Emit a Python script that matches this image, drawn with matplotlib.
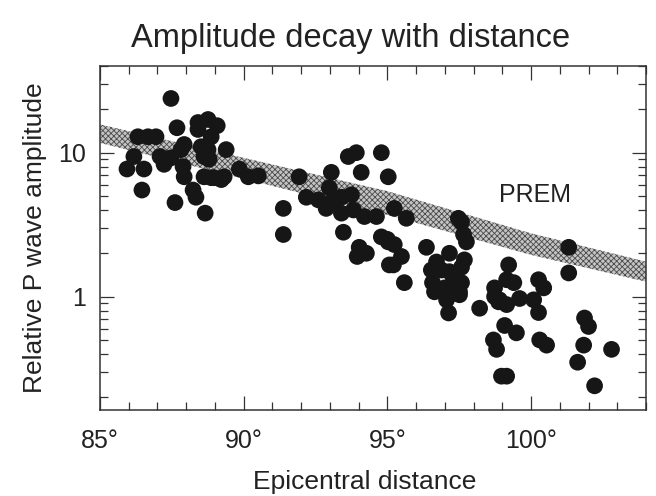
import numpy as np
import matplotlib
matplotlib.use('Agg')
import matplotlib.pyplot as plt
from matplotlib.ticker import FixedLocator, NullFormatter, FuncFormatter, LogLocator

plt.rcParams['font.family'] = ['Liberation Sans', 'DejaVu Sans']
plt.rcParams['hatch.linewidth'] = 0.6
plt.rcParams['hatch.color'] = '#4a4a4a'

# observed P wave amplitudes (epicentral distance in degrees, relative amplitude)
distance = [
    85.94, 86.18, 86.32, 86.53, 86.46, 86.67, 86.95, 87.09, 87.23, 87.47,
    87.47, 87.68, 87.61, 87.93, 87.82, 87.93, 87.89, 88.24, 88.34, 88.66,
    88.41, 88.76, 89.08, 88.41, 88.87, 88.52, 88.76, 89.39, 88.87, 89.22,
    88.62, 88.97, 89.32, 89.85, 90.16, 90.51, 88.62, 88.80,
    91.38, 91.38, 91.93, 92.18, 92.60, 92.87, 92.98, 93.05, 93.40, 93.40,
    93.75, 93.47, 93.64, 93.92, 94.09, 94.79, 95.03, 93.82, 94.20, 94.62,
    94.02, 94.27, 93.95, 94.79, 95.03, 95.07, 93.10,
    95.24, 95.66, 95.00, 95.24, 95.49, 95.21, 95.59, 96.36, 97.47, 97.58,
    97.65, 97.75, 97.16, 96.71, 96.53, 96.88, 97.68, 97.58, 96.57, 96.99,
    97.16, 97.30, 97.58, 97.51, 97.06, 97.13, 98.21, 98.73, 98.90, 99.22,
    99.15, 96.64, 97.51, 98.73, 98.87, 99.15, 99.08, 98.69, 98.80, 98.97,
    99.15,
    101.31, 101.31, 99.40, 100.26, 100.44, 99.60, 100.09, 100.26, 99.49, 100.30,
    100.54, 101.86, 102.00, 101.83, 101.62, 102.80, 102.21,
]
amplitude = [
    7.7, 9.4, 12.9, 7.7, 5.5, 12.9, 12.9, 9.4, 8.3, 9.2,
    23.8, 14.9, 4.5, 6.8, 10.5, 11.4, 8.0, 5.5, 4.9, 3.8,
    16.2, 17.0, 15.4, 14.5, 12.9, 11.0, 10.5, 10.5, 6.7, 6.5,
    6.8, 6.7, 6.8, 7.7, 6.8, 6.9, 9.4, 9.0,
    4.1, 2.7, 6.8, 4.9, 4.7, 4.1, 5.7, 7.3, 4.9, 3.8,
    5.1, 2.8, 9.4, 10.0, 7.3, 10.0, 6.8, 4.0, 3.6, 3.6,
    2.2, 2.0, 1.9, 2.6, 2.4, 1.66, 4.6,
    4.1, 3.5, 2.5, 2.3, 1.9, 1.66, 1.25, 2.2, 3.5, 3.3,
    2.7, 2.4, 2.0, 1.74, 1.53, 1.53, 1.8, 1.6, 1.25, 1.15,
    1.49, 1.31, 1.25, 1.08, 0.95, 0.77, 0.83, 1.15, 0.95, 1.66,
    1.31, 1.08, 1.03, 1.0, 0.92, 0.88, 0.63, 0.50, 0.43, 0.28,
    0.28,
    2.2, 1.46, 1.25, 1.31, 1.15, 0.97, 0.95, 0.775, 0.56, 0.50,
    0.46, 0.71, 0.62, 0.46, 0.35, 0.43, 0.24,
]

# PREM prediction band
prem_distance = [85, 90, 95, 100, 104]
prem_upper = [15.7, 9.2, 5.4, 2.75, 1.75]
prem_lower = [11.7, 6.6, 3.7, 1.95, 1.27]

fig = plt.figure(figsize=(6.56, 4.96), dpi=100)
ax = fig.add_axes([0.1524, 0.1734, 0.8324, 0.6935])

ax.fill_between(prem_distance, prem_lower, prem_upper, facecolor='#c4c4c4',
                hatch='xxxxxx', linewidth=0, zorder=1)
ax.scatter(distance, amplitude, s=145, color='#161616', edgecolors='none', zorder=2)

ax.text(100.12, 5.1, 'PREM', fontsize=18, ha='center', va='center', color='#222222')

ax.set_yscale('log')
ax.set_xlim(85, 104)
ax.set_ylim(0.163, 40)

ax.xaxis.set_major_locator(FixedLocator([85, 90, 95, 100]))
ax.xaxis.set_minor_locator(FixedLocator(np.arange(85, 105, 1)))
ax.xaxis.set_major_formatter(FuncFormatter(lambda v, p: '%d\u00b0' % v))
ax.yaxis.set_major_locator(FixedLocator([1, 10]))
ax.yaxis.set_minor_locator(LogLocator(base=10, subs=np.arange(2, 10)))
ax.yaxis.set_major_formatter(FuncFormatter(lambda v, p: '%d' % v))
ax.yaxis.set_minor_formatter(NullFormatter())

ax.tick_params(which='both', direction='in', top=True, right=True, color='#333333',
               width=0.9, labelsize=18, labelcolor='#222222')
ax.tick_params(which='major', length=10)
ax.tick_params(which='minor', length=5.5)
ax.tick_params(axis='x', which='major', pad=14)
ax.tick_params(axis='y', which='major', pad=10)
for sp in ax.spines.values():
    sp.set_linewidth(1.1)
    sp.set_color('#333333')

ax.set_title('Amplitude decay with distance', fontsize=23.5, color='#222222', pad=14, x=0.458)
ax.set_xlabel('Epicentral distance', fontsize=19, color='#222222', labelpad=12, x=0.485)
ax.set_ylabel('Relative P wave amplitude', fontsize=19, color='#222222', labelpad=8)

plt.savefig('out.png', dpi=100)
